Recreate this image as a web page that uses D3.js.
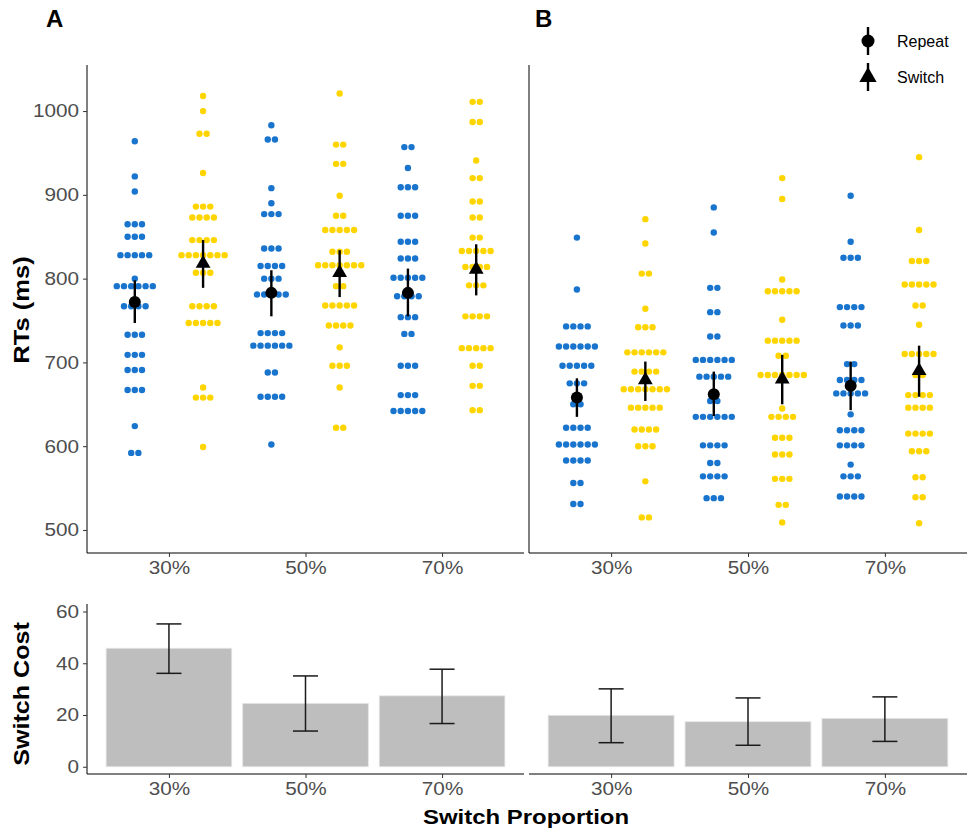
<!DOCTYPE html>
<html><head><meta charset="utf-8">
<script src="https://cdn.jsdelivr.net/npm/d3@7"></script>
<style>html,body{margin:0;padding:0;background:#fff;}svg{display:block;}</style>
</head><body>
<svg id="chart" width="973" height="834"></svg>
<script>
// ---------- DATA ----------
const proportions = ["30%", "50%", "70%"];
const conditions = ["Repeat", "Switch"];
// dot-plot bins: [RT value (ms), number of participants in the bin]
const dotsA30Repeat = [[964,1],[922,1],[904,1],[865,3],[850,3],[828,5],[800,1],[791,6],[767,4],[733,3],[709,3],[691,3],[667,3],[624,1],[592,2]];
const dotsA30Switch = [[1018,1],[1000,1],[973,2],[926,1],[886,3],[873,4],[846,4],[828,7],[807,3],[767,4],[747,5],[670,1],[658,3],[599,1]];
const dotsA50Repeat = [[983,1],[966,2],[908,1],[890,1],[877,3],[836,3],[815,4],[800,3],[781,5],[735,4],[720,6],[688,2],[659,4],[602,1]];
const dotsA50Switch = [[1021,1],[960,2],[937,2],[899,1],[875,2],[858,5],[832,3],[816,7],[791,2],[768,5],[744,4],[718,1],[696,3],[670,1],[622,2]];
const dotsA70Repeat = [[957,2],[932,1],[909,3],[875,3],[844,3],[824,3],[801,5],[779,4],[754,3],[734,2],[696,3],[661,3],[642,5]];
const dotsA70Switch = [[1011,2],[987,2],[941,1],[920,2],[892,2],[873,2],[849,2],[833,5],[814,4],[792,3],[755,4],[717,5],[696,2],[672,2],[643,2]];
const dotsB30Repeat = [[849,1],[787,1],[743,4],[719,6],[696,5],[675,3],[650,2],[622,4],[602,6],[583,4],[556,2],[531,2]];
const dotsB30Switch = [[871,1],[842,1],[806,2],[764,1],[742,3],[712,6],[689,4],[668,7],[646,5],[620,4],[600,3],[558,1],[515,2]];
const dotsB50Repeat = [[885,1],[855,1],[789,2],[760,2],[731,2],[703,6],[683,5],[654,2],[635,6],[601,4],[580,2],[564,4],[538,3]];
const dotsB50Switch = [[920,1],[895,1],[799,1],[785,5],[751,1],[726,5],[708,2],[685,7],[645,1],[635,4],[610,3],[590,3],[561,3],[530,2],[509,1]];
const dotsB70Repeat = [[899,1],[844,1],[825,3],[766,4],[744,3],[698,2],[679,4],[663,5],[638,1],[619,4],[601,4],[578,1],[564,3],[540,4]];
const dotsB70Switch = [[945,1],[858,1],[821,3],[793,5],[768,2],[745,1],[710,5],[685,2],[661,4],[646,4],[615,4],[594,3],[563,2],[539,2],[508,1]];
// condition means with error-bar limits (ms)
const meanRepeatA = [772, 783, 783];
const lowRepeatA  = [747, 755, 755];
const highRepeatA = [798, 810, 812];
const meanSwitchA = [818, 807, 811];
const lowSwitchA  = [789, 778, 780];
const highSwitchA = [846, 834, 841];
const meanRepeatB = [658, 662, 672];
const lowRepeatB  = [635, 636, 643];
const highRepeatB = [681, 689, 701];
const meanSwitchB = [679, 680, 690];
const lowSwitchB  = [654, 650, 659];
const highSwitchB = [701, 709, 720];
// switch cost bars (ms)
const costA     = [45.8, 24.5, 27.4];
const costLowA  = [36.1, 13.8, 16.7];
const costHighA = [55.2, 35.1, 37.7];
const costB     = [19.9, 17.4, 18.7];
const costLowB  = [9.3, 8.3, 9.8];
const costHighB = [30.1, 26.6, 27.0];
const rtTicks   = [500, 600, 700, 800, 900, 1000];
const costTicks = [0, 20, 40, 60];

// ---------- BUILD ----------
const svg = d3.select("#chart");
const FONT = "'Liberation Sans', Arial, sans-serif";
const BLUE = "#1874CD", GOLD = "#FFD500", TICKCOL = "#4D4D4D";
const STRETCH = 1.12;
const TICKSIZE = 18.5;
function stretch(sel, f) {
  sel.each(function() {
    const len = this.getComputedTextLength();
    d3.select(this).attr("textLength", len * (f || STRETCH)).attr("lengthAdjust", "spacingAndGlyphs");
  });
}
function styleTicks(sel) {
  sel.attr("font-family", FONT).attr("font-size", TICKSIZE).attr("fill", TICKCOL).call(stretch);
}

const panelsDef = [
  { key: "A", range: [87, 524],
    dots: { "30%": [dotsA30Repeat, dotsA30Switch], "50%": [dotsA50Repeat, dotsA50Switch], "70%": [dotsA70Repeat, dotsA70Switch] },
    mean: [meanRepeatA, meanSwitchA], low: [lowRepeatA, lowSwitchA], high: [highRepeatA, highSwitchA],
    cost: costA, costLow: costLowA, costHigh: costHighA },
  { key: "B", range: [529, 967],
    dots: { "30%": [dotsB30Repeat, dotsB30Switch], "50%": [dotsB50Repeat, dotsB50Switch], "70%": [dotsB70Repeat, dotsB70Switch] },
    mean: [meanRepeatB, meanSwitchB], low: [lowRepeatB, lowSwitchB], high: [highRepeatB, highSwitchB],
    cost: costB, costLow: costLowB, costHigh: costHighB }
];

const yTop = d3.scaleLinear().domain([472.5, 1055]).range([553, 65]);
const yBot = d3.scaleLinear().domain([-2.8, 62.9]).range([774, 604]);
const DOT_R = 3.2, DOT_STEP = 7.2;
const tri = d3.symbol().type(d3.symbolTriangle).size(95);

panelsDef.forEach((p, pi) => {
  const x = d3.scalePoint().domain(proportions).range(p.range).padding(0.6);
  const off = x.step() * 0.25;
  const xc = (prop, ci) => x(prop) + (ci === 0 ? -off : off);

  // top panel axes
  const gT = svg.append("g");
  gT.append("line").attr("x1", p.range[0]).attr("x2", p.range[1]).attr("y1", 553).attr("y2", 553)
    .attr("stroke", "#000").attr("stroke-width", 1);
  gT.append("line").attr("x1", p.range[0]).attr("x2", p.range[0]).attr("y1", 65).attr("y2", 553)
    .attr("stroke", "#000").attr("stroke-width", 1);
  const xAx = gT.append("g").attr("transform", "translate(0,553)")
    .call(d3.axisBottom(x).tickSize(4).tickPadding(4));
  xAx.select(".domain").remove();
  xAx.selectAll("line").attr("stroke", "#333");
  xAx.selectAll("text").call(styleTicks);
  if (pi === 0) {
    const yAx = gT.append("g").attr("transform", `translate(${p.range[0]},0)`)
      .call(d3.axisLeft(yTop).tickValues(rtTicks).tickFormat(d3.format("d")).tickSize(4).tickPadding(4));
    yAx.select(".domain").remove();
    yAx.selectAll("line").attr("stroke", "#333");
    yAx.selectAll("text").call(styleTicks);
  }

  // dots
  proportions.forEach(prop => {
    p.dots[prop].forEach((bins, ci) => {
      const pts = [];
      bins.forEach(([v, n]) => {
        for (let k = 0; k < n; k++) pts.push({ v, dx: (k - (n - 1) / 2) * DOT_STEP });
      });
      gT.append("g").selectAll("circle").data(pts).join("circle")
        .attr("cx", d => xc(prop, ci) + d.dx).attr("cy", d => yTop(d.v))
        .attr("r", DOT_R).attr("fill", ci === 0 ? BLUE : GOLD);
    });
  });
  // means + error bars
  [0, 1].forEach(ci => {
    proportions.forEach((prop, i) => {
      const cx = xc(prop, ci);
      gT.append("line").attr("x1", cx).attr("x2", cx)
        .attr("y1", yTop(p.low[ci][i])).attr("y2", yTop(p.high[ci][i]))
        .attr("stroke", "#000").attr("stroke-width", 2.4);
      if (ci === 0) {
        gT.append("circle").attr("cx", cx).attr("cy", yTop(p.mean[ci][i])).attr("r", 6).attr("fill", "#000");
      } else {
        gT.append("path").attr("d", tri).attr("transform", `translate(${cx},${yTop(p.mean[ci][i])})`).attr("fill", "#000");
      }
    });
  });

  // bottom panel
  const gB = svg.append("g");
  const bw = x.step() * 0.92;
  gB.selectAll("rect").data(proportions).join("rect")
    .attr("x", d => x(d) - bw / 2).attr("width", bw)
    .attr("y", (d, i) => yBot(p.cost[i])).attr("height", (d, i) => yBot(0) - yBot(p.cost[i]))
    .attr("fill", "#BEBEBE").attr("stroke", "#E6E6E6").attr("stroke-width", 0.8);
  proportions.forEach((prop, i) => {
    const cx = x(prop), hw = 12.5;
    const lo = yBot(p.costLow[i]), hi = yBot(p.costHigh[i]);
    const ln = (x1, y1, x2, y2) => gB.append("line").attr("x1", x1).attr("y1", y1).attr("x2", x2).attr("y2", y2)
      .attr("stroke", "#1a1a1a").attr("stroke-width", 1.5);
    ln(cx, lo, cx, hi); ln(cx - hw, lo, cx + hw, lo); ln(cx - hw, hi, cx + hw, hi);
  });
  gB.append("line").attr("x1", p.range[0]).attr("x2", p.range[1]).attr("y1", 774).attr("y2", 774)
    .attr("stroke", "#000").attr("stroke-width", 1);
  const xAxB = gB.append("g").attr("transform", "translate(0,774)")
    .call(d3.axisBottom(x).tickSize(4).tickPadding(4));
  xAxB.select(".domain").remove();
  xAxB.selectAll("line").attr("stroke", "#333");
  xAxB.selectAll("text").call(styleTicks);
  if (pi === 0) {
    gB.append("line").attr("x1", p.range[0]).attr("x2", p.range[0]).attr("y1", 604).attr("y2", 774)
      .attr("stroke", "#000").attr("stroke-width", 1);
    const yAxB = gB.append("g").attr("transform", `translate(${p.range[0]},0)`)
      .call(d3.axisLeft(yBot).tickValues(costTicks).tickSize(4).tickPadding(4));
    yAxB.select(".domain").remove();
    yAxB.selectAll("line").attr("stroke", "#333");
    yAxB.selectAll("text").call(styleTicks);
  }

  // panel letter
  svg.append("text").attr("x", pi === 0 ? 46 : 535).attr("y", 27).text(p.key)
    .attr("font-family", FONT).attr("font-weight", "bold").attr("font-size", 24).attr("fill", "#000");
});

// titles
svg.append("text").attr("transform", "translate(29,310) rotate(-90)").attr("text-anchor", "middle")
  .attr("font-family", FONT).attr("font-weight", "bold").attr("font-size", 22).text("RTs (ms)").call(stretch, 1.16);
svg.append("text").attr("transform", "translate(29,694) rotate(-90)").attr("text-anchor", "middle")
  .attr("font-family", FONT).attr("font-weight", "bold").attr("font-size", 22).text("Switch Cost").call(stretch, 1.14);
svg.append("text").attr("x", 526).attr("y", 824).attr("text-anchor", "middle")
  .attr("font-family", FONT).attr("font-weight", "bold").attr("font-size", 21).text("Switch Proportion").call(stretch, 1.14);

// legend
const lg = svg.append("g");
conditions.forEach((c, i) => {
  const cy = 41 + i * 36;
  lg.append("line").attr("x1", 868).attr("x2", 868).attr("y1", cy - 14).attr("y2", cy + 14)
    .attr("stroke", "#000").attr("stroke-width", 2.4);
  if (i === 0) lg.append("circle").attr("cx", 868).attr("cy", cy).attr("r", 6.5).attr("fill", "#000");
  else lg.append("path").attr("d", d3.symbol().type(d3.symbolTriangle).size(130)).attr("transform", `translate(868,${cy})`).attr("fill", "#000");
  lg.append("text").attr("x", 897).attr("y", cy + 6).text(c)
    .attr("font-family", FONT).attr("font-size", 16).attr("fill", "#000").call(stretch, 1.0);
});
</script>
</body></html>
